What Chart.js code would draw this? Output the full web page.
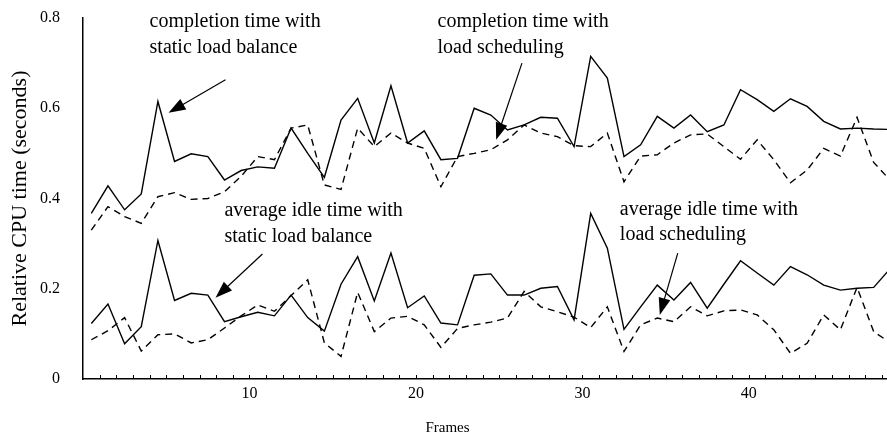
<!DOCTYPE html>
<html lang="en">
<head>
    <meta charset="UTF-8">
    <title>Relative CPU time per frame</title>
    <script src="https://cdn.jsdelivr.net/npm/chart.js"></script>
    <style>
        html, body { margin: 0; padding: 0; background: #fff; }
        #wrap { width: 887px; height: 438px; }
    </style>
</head>
<body>
    <div id="wrap"><canvas id="cpuChart"></canvas></div>

    <script>
        // frame numbers (last one runs past the right edge and gets clipped)
        const frames = [1, 2, 3, 4, 5, 6, 7, 8, 9, 10, 11, 12, 13, 14, 15, 16, 17, 18, 19, 20,
            21, 22, 23, 24, 25, 26, 27, 28, 29, 30, 31, 32, 33, 34, 35, 36, 37, 38, 39, 40,
            41, 42, 43, 44, 45, 46, 47, 48, 49];

        const completionStatic = [0.367, 0.428, 0.375, 0.41, 0.615, 0.482, 0.499, 0.493, 0.441, 0.462,
            0.47, 0.467, 0.556, 0.50, 0.447, 0.574, 0.622, 0.523, 0.65, 0.523,
            0.55, 0.486, 0.489, 0.60, 0.585, 0.552, 0.563, 0.58, 0.578, 0.515,
            0.715, 0.667, 0.493, 0.519, 0.582, 0.556, 0.585, 0.548, 0.563, 0.641,
            0.619, 0.593, 0.621, 0.604, 0.571, 0.554, 0.556, 0.554, 0.553];

        const completionSched = [0.33, 0.382, 0.36, 0.345, 0.404, 0.413, 0.398, 0.40, 0.415, 0.449,
            0.493, 0.486, 0.556, 0.563, 0.43, 0.42, 0.556, 0.515, 0.545, 0.523,
            0.511, 0.426, 0.493, 0.50, 0.508, 0.53, 0.563, 0.545, 0.537, 0.517,
            0.515, 0.545, 0.437, 0.494, 0.497, 0.523, 0.541, 0.543, 0.515, 0.487,
            0.53, 0.486, 0.435, 0.463, 0.511, 0.494, 0.58, 0.48, 0.44];

        const idleStatic = [0.123, 0.166, 0.078, 0.116, 0.307, 0.174, 0.19, 0.186, 0.127, 0.138,
            0.148, 0.14, 0.186, 0.136, 0.106, 0.21, 0.271, 0.173, 0.279, 0.158,
            0.184, 0.124, 0.12, 0.23, 0.233, 0.186, 0.186, 0.201, 0.205, 0.131,
            0.367, 0.29, 0.11, 0.16, 0.208, 0.175, 0.214, 0.157, 0.21, 0.262,
            0.235, 0.208, 0.249, 0.231, 0.208, 0.197, 0.201, 0.203, 0.245];

        const idleSched = [0.087, 0.107, 0.136, 0.062, 0.098, 0.1, 0.08, 0.087, 0.113, 0.14,
            0.164, 0.15, 0.185, 0.22, 0.08, 0.05, 0.192, 0.105, 0.135, 0.139,
            0.12, 0.07, 0.112, 0.12, 0.126, 0.135, 0.194, 0.16, 0.149, 0.137,
            0.114, 0.16, 0.061, 0.12, 0.135, 0.127, 0.16, 0.14, 0.151, 0.153,
            0.142, 0.109, 0.057, 0.079, 0.142, 0.109, 0.203, 0.105, 0.08];

        const yTicks = [0, 0.2, 0.4, 0.6, 0.8];
        const xLabels = [10, 20, 30, 40];

        // callout texts and arrows, in frame / value units
        const notes = [
            { lines: ['completion time with', 'static load balance'], x: 4.0, y: [0.792, 0.734],
              from: [8.56, 0.663], to: [5.14, 0.59] },
            { lines: ['completion time with', 'load scheduling'], x: 21.3, y: [0.792, 0.734],
              from: [26.37, 0.70], to: [24.82, 0.53] },
            { lines: ['average idle time with', 'static load balance'], x: 8.5, y: [0.3725, 0.315],
              from: [10.78, 0.277], to: [7.96, 0.18] },
            { lines: ['average idle time with', 'load scheduling'], x: 32.25, y: [0.375, 0.319],
              from: [35.73, 0.279], to: [34.65, 0.142] }
        ];

        const serif = '"Liberation Serif", "Times New Roman", serif';

        function points(values) {
            // each frame is drawn in the middle of its tick interval
            return values.map((v, i) => ({ x: frames[i] - 0.5, y: v }));
        }

        function lineSet(label, values, dashed) {
            return {
                label: label,
                data: points(values),
                borderColor: '#000',
                borderWidth: 1.4,
                borderDash: dashed ? [7, 5] : [],
                pointRadius: 0,
                fill: false,
                tension: 0
            };
        }

        const calloutPlugin = {
            id: 'callouts',
            afterDraw(chart) {
                const ctx = chart.ctx;
                const xs = chart.scales.x, ys = chart.scales.y;
                const area = chart.chartArea;
                ctx.save();
                ctx.strokeStyle = '#000';
                ctx.fillStyle = '#000';

                // small inward tick marks on the frame axis
                ctx.lineWidth = 1;
                for (let f = 1; f <= 48; f++) {
                    const px = Math.round(xs.getPixelForValue(f)) + 0.5;
                    ctx.beginPath();
                    ctx.moveTo(px, area.bottom);
                    ctx.lineTo(px, area.bottom - 4);
                    ctx.stroke();
                }

                // axis title for frames, centred on the page like the original
                ctx.font = '15px ' + serif;
                ctx.textAlign = 'center';
                ctx.textBaseline = 'middle';
                ctx.fillText('Frames', chart.width / 2 + 4, 428);

                ctx.font = '20px ' + serif;
                ctx.textAlign = 'left';
                notes.forEach(n => {
                    n.lines.forEach((t, i) => {
                        ctx.fillText(t, xs.getPixelForValue(n.x), ys.getPixelForValue(n.y[i]));
                    });
                    const x1 = xs.getPixelForValue(n.from[0]), y1 = ys.getPixelForValue(n.from[1]);
                    const x2 = xs.getPixelForValue(n.to[0]), y2 = ys.getPixelForValue(n.to[1]);
                    const a = Math.atan2(y2 - y1, x2 - x1);
                    const len = 17, half = 6;
                    ctx.lineWidth = 1.2;
                    ctx.beginPath();
                    ctx.moveTo(x1, y1);
                    ctx.lineTo(x2 - Math.cos(a) * len * 0.8, y2 - Math.sin(a) * len * 0.8);
                    ctx.stroke();
                    ctx.beginPath();
                    ctx.moveTo(x2, y2);
                    ctx.lineTo(x2 - Math.cos(a) * len - Math.sin(a) * half, y2 - Math.sin(a) * len + Math.cos(a) * half);
                    ctx.lineTo(x2 - Math.cos(a) * len + Math.sin(a) * half, y2 - Math.sin(a) * len - Math.cos(a) * half);
                    ctx.closePath();
                    ctx.fill();
                });
                ctx.restore();
            }
        };

        new Chart(document.getElementById('cpuChart'), {
            type: 'line',
            data: {
                datasets: [
                    lineSet('completion time with static load balance', completionStatic, false),
                    lineSet('completion time with load scheduling', completionSched, true),
                    lineSet('average idle time with static load balance', idleStatic, false),
                    lineSet('average idle time with load scheduling', idleSched, true)
                ]
            },
            options: {
                responsive: true,
                maintainAspectRatio: false,
                animation: false,
                layout: { padding: { top: 18, right: 0, left: 0, bottom: 0 } },
                plugins: {
                    legend: { display: false },
                    tooltip: { enabled: false }
                },
                scales: {
                    x: {
                        type: 'linear',
                        min: 0,
                        max: 48.3,
                        afterBuildTicks: s => { s.ticks = xLabels.map(v => ({ value: v })); },
                        afterFit: s => { s.height = 59; s.paddingLeft = 0; s.paddingRight = 0; },
                        ticks: {
                            color: '#000',
                            font: { family: serif, size: 16 },
                            padding: 5,
                            maxRotation: 0
                        },
                        grid: { display: false, drawTicks: false },
                        border: { display: true, color: '#000', width: 1.5 }
                    },
                    y: {
                        min: 0,
                        max: 0.8,
                        afterBuildTicks: s => { s.ticks = yTicks.map(v => ({ value: v })); },
                        afterFit: s => { s.width = 83; s.paddingTop = 0; s.paddingBottom = 0; },
                        ticks: {
                            color: '#000',
                            font: { family: serif, size: 16 },
                            padding: 23,
                            callback: v => (v === 0 ? '0' : v.toFixed(1))
                        },
                        grid: { display: false, drawTicks: false },
                        border: { display: true, color: '#000', width: 1.5 },
                        title: {
                            display: true,
                            text: 'Relative CPU time (seconds)',
                            color: '#000',
                            font: { family: serif, size: 22 },
                            padding: { top: 7, bottom: 0 }
                        }
                    }
                }
            },
            plugins: [calloutPlugin]
        });
    </script>
</body>
</html>
